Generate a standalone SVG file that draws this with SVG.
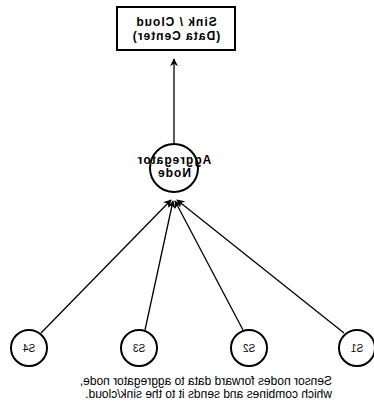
<svg xmlns="http://www.w3.org/2000/svg" width="374" height="409" viewBox="0 0 374 409">
<defs>
<marker id="ah" viewBox="0 0 10 10" refX="9" refY="5" markerWidth="8" markerHeight="8" orient="auto" markerUnits="userSpaceOnUse">
<path d="M0,0 L10,5 L0,10 L3,5 z" fill="#000"/>
</marker>
<style>
.n{fill:#fff;stroke:#000;stroke-width:2}
.c{stroke:#000;stroke-width:1.3;fill:none;marker-end:url(#ah)}
.b{font-family:"Liberation Sans",Arial,sans-serif;font-weight:bold;font-size:12px;letter-spacing:1px;text-anchor:middle;fill:#000}
.s{font-family:"Liberation Sans",Arial,sans-serif;font-size:10px;text-anchor:middle;fill:#000}
.cap{font-family:"Liberation Sans",Arial,sans-serif;font-size:12px;fill:#000}
</style>
</defs>
<rect width="374" height="409" fill="#fff"/>
<g transform="translate(374,0) scale(-1,1)">
<g id="connectors">
<line class="c" x1="200" y1="143" x2="200" y2="59"/>
<line class="c" x1="30" y1="333" x2="197" y2="200"/>
<line class="c" x1="131" y1="330" x2="199" y2="201"/>
<line class="c" x1="229" y1="330" x2="201" y2="201"/>
<line class="c" x1="333" y1="333" x2="203" y2="200"/>
</g>
<g id="sink">
<rect class="n" x="139" y="7" width="118" height="43"/>
<text class="b" x="198" y="26">Sink / Cloud</text>
<text class="b" x="198" y="40">(Data Center)</text>
</g>
<g id="aggregator">
<circle class="n" cx="200" cy="168" r="24"/>
<text class="b" x="200" y="164">Aggregator</text>
<text class="b" x="200" y="177">Node</text>
</g>
<g id="s1"><circle class="n" cx="17" cy="348" r="18"/><text class="s" x="17" y="352">S1</text></g>
<g id="s2"><circle class="n" cx="125" cy="348" r="18"/><text class="s" x="125" y="352">S2</text></g>
<g id="s3"><circle class="n" cx="235" cy="348" r="18"/><text class="s" x="235" y="352">S3</text></g>
<g id="s4"><circle class="n" cx="345" cy="348" r="18"/><text class="s" x="345" y="352">S4</text></g>
<g id="caption">
<text class="cap" x="42" y="385">Sensor nodes forward data to aggregator node,</text>
<text class="cap" x="42" y="398">which combines and sends it to the sink/cloud.</text>
</g>
</g>
</svg>
